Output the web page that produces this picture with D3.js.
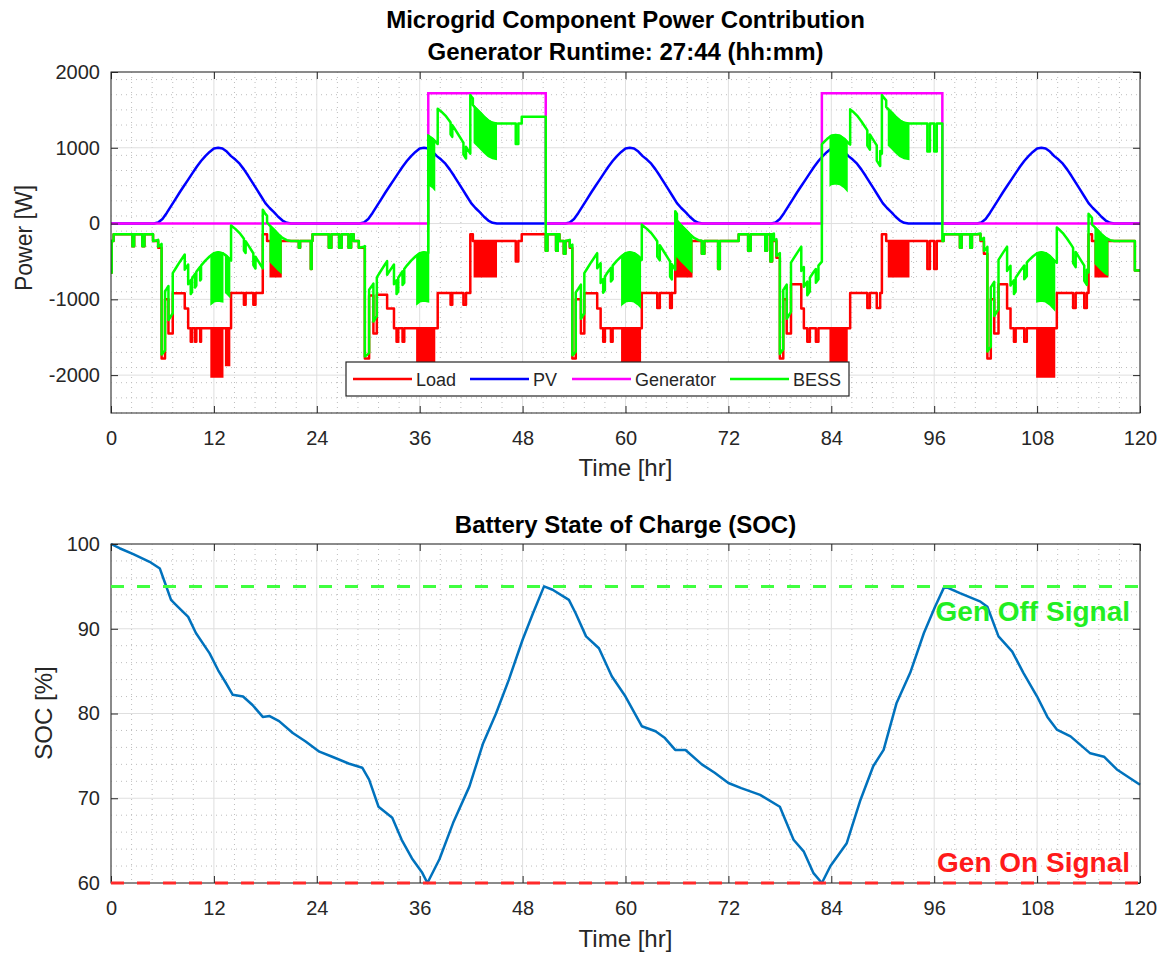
<!DOCTYPE html>
<html>
<head>
<meta charset="utf-8">
<script src="https://cdnjs.cloudflare.com/ajax/libs/d3/7.8.5/d3.min.js"></script>
<style>
body{ margin:0; background:#fff; }
text{ font-family:"Liberation Sans", Arial, Helvetica, sans-serif; fill:#262626; }
.major line{ stroke:#dfdfdf; stroke-width:1; }
.minor line{ stroke:#bdbdbd; stroke-width:1; stroke-dasharray:1,4; }
.axis path{ display:none; }
.axis line{ stroke:#262626; }
.axis text{ font-size:20px; fill:#262626; font-family:"Liberation Sans", Arial, sans-serif; }
</style>
</head>
<body>
<svg id="fig" width="1164" height="957"></svg>
<script>
var timeTicks = [0, 12, 24, 36, 48, 60, 72, 84, 96, 108, 120];
var powerTicks = [-2000, -1000, 0, 1000, 2000];
var socTicks = [60, 70, 80, 90, 100];

// PV output, one value every half hour (0..120 h)
var pvPower = [
    0,0,0,0,0,0,0,0,0,0,0,15,60,140,230,320,410,495,580,665,750,825,890,945,990,1000,990,950,890,845,790,715,630,540,450,360,270,205,150,90,40,10,0,0,0,0,0,0,
    0,0,0,0,0,0,0,0,0,0,0,15,60,140,230,320,410,495,580,665,750,825,890,945,990,1000,990,950,890,845,790,715,630,540,450,360,270,205,150,90,40,10,0,0,0,0,0,0,
    0,0,0,0,0,0,0,0,0,0,0,15,60,140,230,320,410,495,580,665,750,825,890,945,990,1000,990,950,890,845,790,715,630,540,450,360,270,205,150,90,40,10,0,0,0,0,0,0,
    0,0,0,0,0,0,0,0,0,0,0,15,60,140,230,320,410,495,580,665,750,825,890,945,990,1000,990,950,890,845,790,715,630,540,450,360,270,205,150,90,40,10,0,0,0,0,0,0,
    0,0,0,0,0,0,0,0,0,0,0,15,60,140,230,320,410,495,580,665,750,825,890,945,990,1000,990,950,890,845,790,715,630,540,450,360,270,205,150,90,40,10,0,0,0,0,0,0,
    0
];

// generator rating while running: [time, power] steps
var genSteps = [[0, 0], [37.0, 1720], [50.7, 0], [82.9, 1720], [96.95, 0]];
// generator power that actually reaches the battery
var genToBus = [[0, 0], [37.0, 1550], [50.7, 0], [82.9, 1550], [96.95, 0]];

// load: [time, power] steps (value holds until the next step)
var loadSteps = [
    [0, -650], [0.08, -230], [0.3, -142], [2.5, -300], [2.7, -142], [3.65, -300], [3.9, -142], [4.9, -230], [5.5, -320],
    [5.9, -1780], [6.3, -1000], [6.7, -1450], [7.2, -920], [8.6, -1120], [9.0, -1380], [9.3, -1560], [9.45, -1380],
    [9.8, -1560], [9.95, -1380], [10.4, -1560], [10.5, -1380], [14.0, -915], [15.5, -1070], [15.7, -915],
    [16.6, -1070], [16.85, -915], [17.7, -142], [18.2, -230], [21.9, -320], [22.05, -230], [23.3, -600],
    [23.4, -230], [23.5, -142],
    [25.4, -320], [25.7, -142], [26.6, -320], [26.9, -142], [27.7, -320], [28.0, -142], [28.3, -230], [28.9, -320],
    [29.6, -1780], [30.1, -950], [30.6, -1450], [31.0, -940], [32.2, -1120], [33.0, -1380], [33.3, -1560],
    [33.5, -1380], [34.0, -1560], [34.2, -1380], [38.1, -915], [39.6, -1070], [39.8, -915], [41.1, -1070],
    [41.4, -915], [41.9, -142], [42.2, -230], [47.2, -500], [47.5, -230], [47.9, -142],
    [50.7, -360], [50.9, -142], [51.9, -360], [52.1, -142], [52.3, -230], [52.8, -400], [53.0, -230], [53.5, -320],
    [53.8, -1780], [54.2, -1000], [54.8, -1450], [55.2, -920], [56.7, -1120], [57.1, -1380], [57.4, -1560],
    [57.6, -1380], [58.3, -1560], [58.5, -1380], [61.9, -915], [63.7, -1115], [64.0, -915], [65.2, -1115],
    [65.4, -915], [65.8, -142], [66.0, -230], [68.9, -400], [69.2, -230], [70.8, -600], [71.0, -230],
    [73.2, -142], [74.3, -360], [74.6, -142],
    [76.3, -360], [76.5, -142], [76.9, -500], [77.1, -142], [77.3, -230], [77.6, -450], [78.0, -1780],
    [78.4, -1000], [78.8, -1450], [79.3, -800], [80.5, -1120], [80.8, -1380], [81.2, -1560], [81.5, -1380],
    [82.2, -1560], [82.5, -1380], [86.2, -915], [88.2, -1115], [88.5, -915], [89.3, -1115], [89.7, -915],
    [89.9, -142], [90.4, -230], [95.2, -600], [95.5, -230], [96.0, -600], [96.3, -230], [97.1, -142],
    [99.0, -320], [99.2, -142], [100.2, -320], [100.4, -142], [101.4, -230], [101.8, -400], [102.2, -1780],
    [102.6, -1000], [103.0, -1450], [103.5, -800], [104.5, -1120], [104.9, -1380], [105.3, -1560],
    [105.5, -1380], [106.5, -1560], [106.8, -1380], [110.3, -915], [112.2, -1115], [112.5, -915],
    [113.5, -1115], [113.8, -915], [114.0, -142], [114.4, -230], [119.4, -620]
];

// load switching fast between its step value and a deeper level: [start, end, deep]
var loadBands = [
    [11.7, 13.0, -2020], [13.4, 13.8, -1870], [18.6, 19.8, -700],
    [35.7, 37.7, -2020], [42.4, 44.9, -700],
    [59.6, 61.7, -2020], [66.0, 67.7, -700],
    [83.9, 85.8, -2020], [90.7, 93.0, -700],
    [108.0, 110.0, -2020], [114.8, 116.2, -700]
];

// battery state of charge
var socTime = [0, 1, 2.6, 4.5, 5.7, 6.3, 7, 7.6, 9, 9.9, 11.5, 12.5, 13.4, 14.2, 15.4, 16.5, 17.7, 18.5, 19.6,
    21.2, 22.7, 24.3, 25.8, 27.7, 29.3, 30.1, 31.2, 32.8, 33.9, 35.1, 36.3, 36.9, 38.3, 39.9, 41.8, 43.4,
    44.9, 46.4, 48, 49.2, 50.5, 51.5, 53.4, 54.2, 55.4, 56.9, 58.4, 60, 61.9, 63.5, 64.6, 65.8, 67, 68.9,
    70.4, 72, 73.5, 75.7, 78, 79.6, 80.8, 81.9, 82.9, 83.9, 85.8, 87.4, 88.9, 90.1, 91.6, 93.2, 94.8, 96.1,
    97.2, 99, 101.4, 102.2, 103.5, 105.1, 106.4, 108, 109.2, 110.3, 111.9, 114.2, 115.8, 117.3, 120];
var socValue = [100, 99.5, 98.8, 97.9, 97.1, 95.4, 93.4, 92.8, 91.4, 89.5, 87.1, 85.1, 83.6, 82.2, 82.0, 81.0,
    79.6, 79.7, 79.1, 77.7, 76.7, 75.5, 74.9, 74.1, 73.6, 72.2, 69.0, 67.7, 65.1, 62.9, 61.2, 60.0, 62.8,
    67.1, 71.4, 76.5, 80.0, 84.0, 88.7, 91.8, 95.0, 94.6, 93.4, 91.8, 89.1, 87.7, 84.4, 82.0, 78.5, 77.9,
    77.1, 75.7, 75.7, 74.0, 73.0, 71.8, 71.2, 70.4, 69.0, 65.1, 63.7, 61.2, 60.0, 62.0, 64.7, 69.8, 73.8,
    75.7, 81.2, 84.8, 89.5, 92.6, 95.0, 94.2, 93.2, 92.6, 89.1, 87.3, 84.8, 82.0, 79.6, 78.1, 77.3, 75.3,
    74.9, 73.4, 71.6];

var genOnLevel = 60;
var genOffLevel = 95;

var seriesNames = ["Load", "PV", "Generator", "BESS"];
var seriesColors = ["#ff0000", "#0000ff", "#ff00ff", "#00ff00"];

var svg = d3.select("#fig");
svg.append("rect").attr("width", 1164).attr("height", 957).attr("fill", "#fff");

var xScale = d3.scaleLinear().domain([0, 120]).range([111, 1140]);
var yPow = d3.scaleLinear().domain([-2500, 2000]).range([413, 72]);
var ySoc = d3.scaleLinear().domain([60, 100]).range([883, 544]);

function stepValue(steps, t){
    var v = steps[0][1];
    for(var i = 0; i < steps.length; i++){
        if(steps[i][0] <= t) v = steps[i][1];
    }
    return v;
}

function pvValue(t){
    var i = Math.min(Math.floor(t * 2), pvPower.length - 2);
    var f = t * 2 - i;
    return pvPower[i] * (1 - f) + pvPower[i + 1] * f;
}

function drawGrid(g, y, minorStepY, ticks){
    var y0 = y.range()[1], y1 = y.range()[0];
    var minorX = d3.range(0, 120.01, 2.4).filter(function(d){ return Math.abs(d / 12 - Math.round(d / 12)) > 0.01; });
    var yd = y.domain();
    var minorY = d3.range(yd[0], yd[1] + 0.01, minorStepY).filter(function(d){
        return ticks.indexOf(d) < 0;
    });
    var minor = g.append("g").attr("class", "minor");
    minor.selectAll(".mx").data(minorX).enter().append("line")
        .attr("x1", function(d){ return xScale(d); })
        .attr("x2", function(d){ return xScale(d); })
        .attr("y1", y0).attr("y2", y1);
    minor.selectAll(".my").data(minorY).enter().append("line")
        .attr("x1", 111).attr("x2", 1140)
        .attr("y1", function(d){ return y(d); })
        .attr("y2", function(d){ return y(d); });
    var major = g.append("g").attr("class", "major");
    major.selectAll(".gx").data(timeTicks).enter().append("line")
        .attr("x1", function(d){ return xScale(d); })
        .attr("x2", function(d){ return xScale(d); })
        .attr("y1", y0).attr("y2", y1);
    major.selectAll(".gy").data(ticks).enter().append("line")
        .attr("x1", 111).attr("x2", 1140)
        .attr("y1", function(d){ return y(d); })
        .attr("y2", function(d){ return y(d); });
}

function drawFrame(g, y, ticks){
    var y0 = y.range()[1], y1 = y.range()[0];
    g.append("g").attr("class", "axis")
        .attr("transform", "translate(0," + y1 + ")")
        .call(d3.axisBottom(xScale).tickValues(timeTicks).tickSize(-7).tickPadding(18));
    g.append("g").attr("class", "axis")
        .attr("transform", "translate(0," + y0 + ")")
        .call(d3.axisTop(xScale).tickValues(timeTicks).tickSize(-7).tickFormat(""));
    g.append("g").attr("class", "axis")
        .attr("transform", "translate(111,0)")
        .call(d3.axisLeft(y).tickValues(ticks).tickSize(-7).tickPadding(11)
            .tickFormat(function(d){ return String(d); }));
    g.append("g").attr("class", "axis")
        .attr("transform", "translate(1140,0)")
        .call(d3.axisRight(y).tickValues(ticks).tickSize(-7).tickFormat(""));
    g.append("rect")
        .attr("x", 111).attr("y", y0)
        .attr("width", 1029).attr("height", y1 - y0)
        .attr("fill", "none").attr("stroke", "#262626").attr("stroke-width", 1);
}

// ---------- top: power ----------
var powerPanel = svg.append("g");
drawGrid(powerPanel, yPow, 200, powerTicks);

svg.append("clipPath").attr("id", "clipTop").append("rect")
    .attr("x", 111).attr("y", 72).attr("width", 1029).attr("height", 341);
var plot = powerPanel.append("g").attr("clip-path", "url(#clipTop)");

var stepLine = d3.line()
    .x(function(d){ return xScale(d[0]); })
    .y(function(d){ return yPow(d[1]); })
    .curve(d3.curveStepAfter);
var plainLine = d3.line()
    .x(function(d){ return xScale(d[0]); })
    .y(function(d){ return yPow(d[1]); });
var band = d3.area()
    .x(function(d){ return xScale(d[0]); })
    .y0(function(d){ return yPow(d[1]); })
    .y1(function(d){ return yPow(d[2]); });

var loadData = loadSteps.concat([[120, loadSteps[loadSteps.length - 1][1]]]);
plot.append("path")
    .datum(loadData)
    .attr("d", stepLine)
    .attr("fill", "none").attr("stroke", seriesColors[0]).attr("stroke-width", 2.5)
    .attr("stroke-linejoin", "round");

loadBands.forEach(function(b){
    var base = stepValue(loadSteps, b[0]);
    plot.append("path")
        .datum([[b[0], base, b[2]], [b[1], base, b[2]]])
        .attr("d", band)
        .attr("fill", seriesColors[0]).attr("stroke", seriesColors[0]).attr("stroke-width", 2);
});

var pvData = pvPower.map(function(d, i){ return [i / 2, d]; });
plot.append("path")
    .datum(pvData)
    .attr("d", plainLine)
    .attr("fill", "none").attr("stroke", seriesColors[1]).attr("stroke-width", 2.5)
    .attr("stroke-linejoin", "round");

var genData = genSteps.concat([[120, 0]]);
plot.append("path")
    .datum(genData)
    .attr("d", stepLine)
    .attr("fill", "none").attr("stroke", seriesColors[2]).attr("stroke-width", 2.5);

// BESS balances the bus: load + pv + generator
var times = loadSteps.map(function(d){ return d[0]; })
    .concat(genToBus.map(function(d){ return d[0]; }))
    .concat(pvPower.map(function(d, i){ return i / 2; }));
times = Array.from(new Set(times)).sort(function(a, b){ return a - b; });

var bessData = [];
for(var i = 0; i < times.length - 1; i++){
    var ta = times[i], tb = times[i + 1];
    var L = stepValue(loadSteps, ta), G = stepValue(genToBus, ta);
    bessData.push([ta, L + pvValue(ta) + G]);
    bessData.push([tb, L + pvValue(tb) + G]);
}
plot.append("path")
    .datum(bessData)
    .attr("d", plainLine)
    .attr("fill", "none").attr("stroke", seriesColors[3]).attr("stroke-width", 2.5)
    .attr("stroke-linejoin", "round");

loadBands.forEach(function(bd){
    var ts = times.filter(function(t){ return t > bd[0] && t < bd[1]; });
    var base = stepValue(loadSteps, bd[0]);
    var pts = [];
    function push(t, side){
        var extra = pvValue(t) + stepValue(genToBus, side < 0 ? t - 1e-6 : t);
        pts.push([t, base + extra, bd[2] + extra]);
    }
    push(bd[0], 1);
    ts.forEach(function(t){ push(t, -1); push(t, 1); });
    push(bd[1], -1);
    plot.append("path")
        .datum(pts)
        .attr("d", band)
        .attr("fill", seriesColors[3]).attr("stroke", seriesColors[3]).attr("stroke-width", 2);
});

drawFrame(powerPanel, yPow, powerTicks);

// legend
var legend = powerPanel.append("g");
legend.append("rect")
    .attr("x", 346).attr("y", 362).attr("width", 503).attr("height", 34)
    .attr("fill", "#fff").attr("stroke", "#262626").attr("stroke-width", 1.2);
var legendX = [353, 470, 572, 730];
seriesNames.forEach(function(name, i){
    legend.append("line")
        .attr("x1", legendX[i]).attr("x2", legendX[i] + 59)
        .attr("y1", 379).attr("y2", 379)
        .attr("stroke", seriesColors[i]).attr("stroke-width", 2.5);
    legend.append("text")
        .attr("x", legendX[i] + 63).attr("y", 385.5)
        .style("font-size", "18px")
        .text(name);
});

svg.append("text").attr("x", 625.5).attr("y", 28).attr("text-anchor", "middle")
    .style("font-size", "24px").style("font-weight", "bold").style("fill", "#000")
    .text("Microgrid Component Power Contribution");
svg.append("text").attr("x", 625.5).attr("y", 60).attr("text-anchor", "middle")
    .style("font-size", "24px").style("font-weight", "bold").style("fill", "#000")
    .text("Generator Runtime: 27:44 (hh:mm)");
svg.append("text").attr("x", 625.5).attr("y", 476).attr("text-anchor", "middle")
    .style("font-size", "24px")
    .text("Time [hr]");
svg.append("text").attr("transform", "translate(32,238) rotate(-90)").attr("text-anchor", "middle")
    .style("font-size", "23px")
    .text("Power [W]");

// ---------- bottom: SOC ----------
var socPanel = svg.append("g");
drawGrid(socPanel, ySoc, 2, socTicks);

var socLine = d3.line()
    .x(function(d, i){ return xScale(socTime[i]); })
    .y(function(d){ return ySoc(d); });
socPanel.append("path")
    .datum(socValue)
    .attr("d", socLine)
    .attr("fill", "none").attr("stroke", "#0072bd").attr("stroke-width", 2.5)
    .attr("stroke-linejoin", "round");

drawFrame(socPanel, ySoc, socTicks);

socPanel.append("line")
    .attr("x1", xScale(0)).attr("x2", xScale(120))
    .attr("y1", ySoc(genOffLevel)).attr("y2", ySoc(genOffLevel))
    .attr("stroke", "#40ff40").attr("stroke-width", 3).attr("stroke-dasharray", "13,13");
socPanel.append("line")
    .attr("x1", xScale(0)).attr("x2", xScale(120))
    .attr("y1", ySoc(genOnLevel)).attr("y2", ySoc(genOnLevel))
    .attr("stroke", "#ff2a2a").attr("stroke-width", 3).attr("stroke-dasharray", "13,13");

socPanel.append("text")
    .attr("x", xScale(120) - 10).attr("y", ySoc(genOffLevel) + 35)
    .attr("text-anchor", "end")
    .style("font-size", "28px").style("font-weight", "bold").style("fill", "#22ee22")
    .text("Gen Off Signal");
socPanel.append("text")
    .attr("x", xScale(120) - 10).attr("y", ySoc(genOnLevel) - 11)
    .attr("text-anchor", "end")
    .style("font-size", "28px").style("font-weight", "bold").style("fill", "#ff1a1a")
    .text("Gen On Signal");

svg.append("text").attr("x", 625.5).attr("y", 533).attr("text-anchor", "middle")
    .style("font-size", "24px").style("font-weight", "bold").style("fill", "#000")
    .text("Battery State of Charge (SOC)");
svg.append("text").attr("x", 625.5).attr("y", 947).attr("text-anchor", "middle")
    .style("font-size", "24px")
    .text("Time [hr]");
svg.append("text").attr("transform", "translate(52,713) rotate(-90)").attr("text-anchor", "middle")
    .style("font-size", "24px")
    .text("SOC [%]");
</script>
</body>
</html>
